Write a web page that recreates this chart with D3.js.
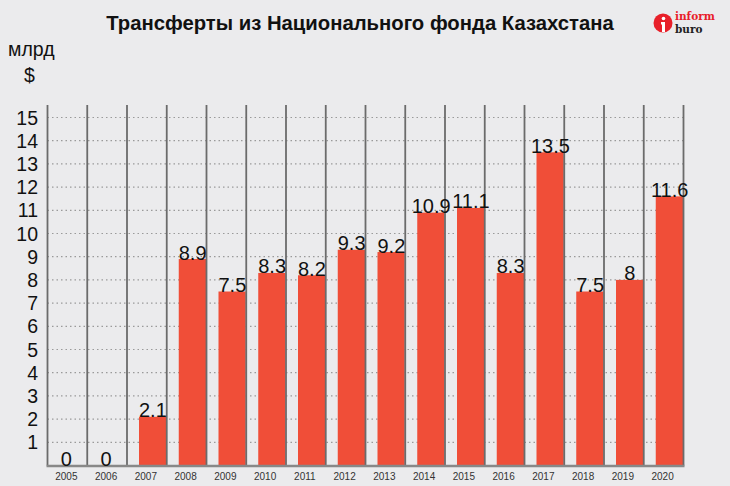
<!DOCTYPE html>
<html>
<head>
<meta charset="utf-8">
<script src="https://cdn.jsdelivr.net/npm/d3@7"></script>
<style>
  body { margin: 0; background: #ebebed; }
  svg { display: block; font-family: "Liberation Sans", Arial, sans-serif; }
</style>
</head>
<body>
<div id="chart"></div>
<script>
// data
let years = ["2005","2006","2007","2008","2009","2010","2011","2012","2013","2014","2015","2016","2017","2018","2019","2020"];
let transfers = [0, 0, 2.1, 8.9, 7.5, 8.3, 8.2, 9.3, 9.2, 10.9, 11.1, 8.3, 13.5, 7.5, 8, 11.6];
let yTicks = [1,2,3,4,5,6,7,8,9,10,11,12,13,14,15];

let width = 730, height = 486;
let barColor = '#f04e38';
let lineColor = '#6b6b6b';

let svg = d3.select("#chart")
    .append("svg")
    .attr("width", width)
    .attr("height", height);

svg.append("rect")
    .attr("width", width)
    .attr("height", height)
    .attr("fill", "#ebebed");

let xScale = d3.scaleBand()
    .domain(years)
    .range([47.5, 683.5])
    .padding(0);

let yScale = d3.scaleLinear()
    .domain([0, 15])
    .range([465.5, 117.5]);

// title
svg.append("text")
    .attr("x", 360)
    .attr("y", 30)
    .attr("text-anchor", "middle")
    .style("font-size", "20.3px")
    .style("font-weight", "bold")
    .attr("fill", "#111")
    .text("Трансферты из Национального фонда Казахстана");

// units
svg.append("text")
    .attr("x", 8)
    .attr("y", 56)
    .style("font-size", "19.5px")
    .attr("fill", "#111")
    .text("млрд");
svg.append("text")
    .attr("x", 24)
    .attr("y", 82)
    .style("font-size", "19.5px")
    .attr("fill", "#111")
    .text("$");

// logo
let logo = svg.append("g").attr("transform", "translate(663,23)");
logo.append("circle").attr("r", 9.5).attr("fill", "#e8202a");
logo.append("circle").attr("cx", 0.5).attr("cy", -4.5).attr("r", 1.8).attr("fill", "#fff");
logo.append("path").attr("d", "M-2,-1 L2,-1 L2,9 L-1,9 L-1,1.5 L-2,1.5 Z").attr("fill", "#fff");
logo.append("text")
    .attr("x", 12).attr("y", -3)
    .style("font-family", "'DejaVu Serif', serif")
    .style("font-size", "10.5px")
    .style("font-weight", "bold")
    .attr("fill", "#e8202a")
    .text("inform");
logo.append("text")
    .attr("x", 12).attr("y", 9.5)
    .style("font-family", "'DejaVu Serif', serif")
    .style("font-size", "10.5px")
    .style("font-weight", "bold")
    .attr("fill", "#222")
    .text("buro");

// horizontal dotted gridlines
svg.append("g")
    .selectAll("line")
    .data(yTicks)
    .join("line")
    .attr("x1", xScale.range()[0])
    .attr("x2", xScale.range()[1])
    .attr("y1", d => yScale(d))
    .attr("y2", d => yScale(d))
    .attr("stroke", "#9a9a9a")
    .attr("stroke-width", 1.2)
    .attr("stroke-dasharray", "1.5,3");

// y axis labels
svg.append("g")
    .selectAll("text")
    .data(yTicks)
    .join("text")
    .attr("x", 38)
    .attr("y", d => yScale(d) + 7)
    .attr("text-anchor", "end")
    .style("font-size", "19.5px")
    .attr("fill", "#111")
    .text(d => d);

// bars
let barGap = 12;
svg.append("g")
    .selectAll("rect")
    .data(years)
    .join("rect")
    .attr("x", d => xScale(d) + barGap)
    .attr("y", (d, i) => yScale(transfers[i]))
    .attr("width", xScale.bandwidth() - barGap - 0.5)
    .attr("height", (d, i) => yScale(0) - yScale(transfers[i]))
    .attr("fill", barColor);

// vertical column lines
let bounds = years.map(d => xScale(d)).concat([xScale.range()[1]]);
svg.append("g")
    .selectAll("line")
    .data(bounds)
    .join("line")
    .attr("x1", d => d)
    .attr("x2", d => d)
    .attr("y1", 105)
    .attr("y2", yScale(0))
    .attr("stroke", lineColor)
    .attr("stroke-width", 1.8);

// baseline
svg.append("line")
    .attr("x1", xScale.range()[0] - 1)
    .attr("x2", xScale.range()[1] + 1)
    .attr("y1", yScale(0) + 0.5)
    .attr("y2", yScale(0) + 0.5)
    .attr("stroke", "#888")
    .attr("stroke-width", 2.5);

// value labels
svg.append("g")
    .selectAll("text")
    .data(years)
    .join("text")
    .attr("x", (d, i) => transfers[i] === 0 ? xScale(d) + xScale.bandwidth() / 2 - 1 : xScale(d) + barGap + (xScale.bandwidth() - barGap) / 2)
    .attr("y", (d, i) => yScale(transfers[i]) + 0.5)
    .attr("text-anchor", "middle")
    .style("font-size", "20px")
    .attr("fill", "#111")
    .text((d, i) => transfers[i]);

// year labels
svg.append("g")
    .selectAll("text")
    .data(years)
    .join("text")
    .attr("x", d => xScale(d) + xScale.bandwidth() / 2 - 1)
    .attr("y", 480)
    .attr("text-anchor", "middle")
    .style("font-family", "'Liberation Sans Narrow', 'Liberation Sans', Arial, sans-serif")
    .style("font-size", "10px")
    .attr("fill", "#333")
    .text(d => d);
</script>
</body>
</html>
